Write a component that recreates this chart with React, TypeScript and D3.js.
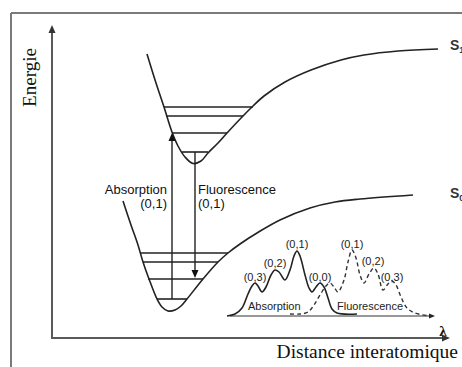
import React from "react";
import * as d3 from "d3";

const W = 462;
const H = 367;

// Potential energy curves: [interatomic distance, energy] in diagram units
const excitedCurve: [number, number][] = [
  [95, 284], [104, 255], [112, 231], [120, 206], [126, 192], [133, 181], [141, 174.5],
  [149, 177], [156, 185], [166, 195], [175, 205], [191, 222], [201, 232], [212, 242],
  [233, 256], [259, 268], [289, 278], [312, 283], [346, 287], [386, 289],
];
const groundCurve: [number, number][] = [
  [71, 137], [79, 113], [86, 93], [91, 76], [97, 59], [105, 39], [110, 31], [116, 27],
  [123, 28], [129, 32], [135, 39], [151, 59], [166, 76], [176, 85], [188, 94], [205, 105],
  [228, 118], [258, 130], [283, 136], [308, 139], [361, 143],
];

// Vibrational levels: energy, left distance, right distance
const excitedLevels = [
  { e: 231, r0: 112, r1: 201 },
  { e: 222, r0: 114, r1: 191 },
  { e: 205, r0: 120, r1: 175 },
  { e: 186, r0: 130, r1: 156 },
];
const groundLevels = [
  { e: 85, r0: 88, r1: 176 },
  { e: 76, r0: 91, r1: 166 },
  { e: 59, r0: 96, r1: 151 },
  { e: 39, r0: 105, r1: 135 },
];

// Transitions
const transitions = [
  { name: "Absorption", sub: "(0,1)", r: 120, from: 39, to: 205, side: "left" },
  { name: "Fluorescence", sub: "(0,1)", r: 143, from: 186, to: 60, side: "right" },
];
const transitionLabelE = [144, 130];

const stateLabels = [
  { main: "S", sub: "1", r: 398, e: 288 },
  { main: "S", sub: "0", r: 398, e: 140 },
];

// Spectra: [wavelength, intensity]
const absorptionSpectrum: [number, number][] = [
  [-3, 0], [5, 2], [12, 8], [18, 22], [22, 30], [25, 33], [28, 30], [32, 24], [36, 29],
  [41, 41], [45, 46], [49, 44], [55, 36], [60, 46], [64, 60], [67, 65], [70, 60], [75, 41],
  [79, 28], [82, 24], [86, 29], [90, 33], [94, 29], [98, 18], [102, 7], [107, 3], [127, 2],
];
const fluorescenceSpectrum: [number, number][] = [
  [60, 2], [70, 2], [78, 4], [84, 11], [90, 21], [96, 30], [100, 33], [104, 29], [108, 24],
  [114, 36], [118, 54], [122, 66], [126, 58], [130, 41], [134, 33], [139, 42], [144, 48],
  [148, 42], [153, 26], [158, 32], [162, 35], [166, 31], [171, 19], [177, 8], [185, 3], [200, 0],
];
const absorptionPeakLabels = [
  { label: "(0,3)", l: 25, i: 35 },
  { label: "(0,2)", l: 45, i: 49 },
  { label: "(0,1)", l: 67, i: 68 },
  { label: "(0,0)", l: 90, i: 35 },
];
const fluorescencePeakLabels = [
  { label: "(0,1)", l: 122, i: 68 },
  { label: "(0,2)", l: 143, i: 51 },
  { label: "(0,3)", l: 162, i: 35 },
];
const spectrumNames = [
  { label: "Absorption", l: 18, i: 6 },
  { label: "Fluorescence", l: 107, i: 6 },
];

const xS = d3.scaleLinear().domain([0, 398]).range([52, 450]);
const yS = d3.scaleLinear().domain([0, 313]).range([338, 25]);
const lS = d3.scaleLinear().domain([0, 205]).range([230, 435]);
const iS = d3.scaleLinear().domain([0, 66]).range([316, 250]);

const INK = "#222";
const SANS = "'Liberation Sans', Arial, sans-serif";
const SERIF = "'Liberation Serif', 'Times New Roman', serif";

function tri(x: number, y: number, dir: "up" | "down" | "right", len: number, hw: number) {
  if (dir === "up") return `M${x},${y} L${x - hw},${y + len} L${x + hw},${y + len} Z`;
  if (dir === "down") return `M${x},${y} L${x - hw},${y - len} L${x + hw},${y - len} Z`;
  return `M${x},${y} L${x - len},${y - hw} L${x - len},${y + hw} Z`;
}

export default function App() {
  const potLine = d3
    .line<[number, number]>()
    .x((d) => xS(d[0]))
    .y((d) => yS(d[1]))
    .curve(d3.curveCatmullRom.alpha(0.5));
  const specLine = d3
    .line<[number, number]>()
    .x((d) => lS(d[0]))
    .y((d) => iS(d[1]))
    .curve(d3.curveCatmullRom.alpha(0.5));

  const [x0, x1] = xS.range();
  const [y0, y1] = yS.range();
  const [l0, l1] = lS.range();
  const base = iS(0);

  return (
    <svg
      width={W}
      height={H}
      viewBox={`0 0 ${W} ${H}`}
      style={{ position: "absolute", left: 0, top: 0, display: "block", background: "#fff" }}
    >
      <rect x={0} y={0} width={W} height={H} fill="#fff" />
      {/* outer frame */}
      <line x1={11} y1={13} x2={W} y2={13} stroke="#7a7a7a" strokeWidth={2} />
      <line x1={11} y1={13} x2={11} y2={H} stroke="#7a7a7a" strokeWidth={2} />

      {/* axes */}
      <line x1={x0} y1={y0} x2={x0} y2={y1 + 6} stroke="#5a5a5a" strokeWidth={2} />
      <path d={tri(x0, y1, "up", 8, 3.5)} fill="#333" />
      <line x1={x0 - 1} y1={y0} x2={x1 - 6} y2={y0} stroke="#5a5a5a" strokeWidth={2} />
      <path d={tri(x1, y0, "right", 8, 3.5)} fill="#333" />

      <text
        transform={`translate(36,77.5) rotate(-90)`}
        textAnchor="middle"
        fontFamily={SERIF}
        fontSize={19}
        fill="#111"
      >
        Energie
      </text>
      <text x={458} y={358} textAnchor="end" fontFamily={SERIF} fontSize={19.5} fill="#111">
        Distance interatomique
      </text>

      {/* potential curves */}
      <path d={potLine(excitedCurve) || ""} fill="none" stroke={INK} strokeWidth={1.6} />
      <path d={potLine(groundCurve) || ""} fill="none" stroke={INK} strokeWidth={1.6} />

      {[...excitedLevels, ...groundLevels].map((lv, i) => (
        <line
          key={"lv" + i}
          x1={xS(lv.r0)}
          x2={xS(lv.r1)}
          y1={yS(lv.e)}
          y2={yS(lv.e)}
          stroke={INK}
          strokeWidth={1.6}
        />
      ))}

      {transitions.map((t, i) => {
        const x = xS(t.r);
        const up = t.to > t.from;
        const tipY = yS(t.to);
        const lx = t.side === "left" ? x - 5 : x + 3;
        const anchor = t.side === "left" ? "end" : "start";
        return (
          <g key={"tr" + i}>
            <line
              x1={x}
              x2={x}
              y1={yS(t.from)}
              y2={up ? tipY + 6 : tipY - 6}
              stroke={INK}
              strokeWidth={1.4}
            />
            <path d={tri(x, tipY, up ? "up" : "down", 8, 3.5)} fill="#111" />
            <text x={lx} y={yS(transitionLabelE[0])} textAnchor={anchor} fontFamily={SANS} fontSize={13} fill="#111">
              {t.name}
            </text>
            <text x={lx} y={yS(transitionLabelE[1])} textAnchor={anchor} fontFamily={SANS} fontSize={13} fill="#111">
              {t.sub}
            </text>
          </g>
        );
      })}

      {stateLabels.map((s, i) => (
        <text key={"st" + i} x={xS(s.r)} y={yS(s.e)} fontFamily={SANS} fontSize={14} fontWeight="bold" fill="#333">
          {s.main}
          <tspan fontSize={9} dy={3}>
            {s.sub}
          </tspan>
        </text>
      ))}

      {/* spectra */}
      <line x1={l0} y1={base} x2={l1 - 5} y2={base} stroke="#333" strokeWidth={1.2} />
      <path d={tri(l1, base, "right", 6, 2.5)} fill="#222" />
      <text x={443} y={336} textAnchor="middle" fontFamily={SERIF} fontSize={15} fontWeight="bold" fill="#111">
        λ
      </text>

      <path d={specLine(absorptionSpectrum) || ""} fill="none" stroke={INK} strokeWidth={1.6} />
      <path
        d={specLine(fluorescenceSpectrum) || ""}
        fill="none"
        stroke="#333"
        strokeWidth={1.4}
        strokeDasharray="4 3"
      />

      {[...absorptionPeakLabels, ...fluorescencePeakLabels].map((p, i) => (
        <text
          key={"pk" + i}
          x={lS(p.l)}
          y={iS(p.i)}
          textAnchor="middle"
          fontFamily={SANS}
          fontSize={11}
          fill="#222"
        >
          {p.label}
        </text>
      ))}
      {spectrumNames.map((s, i) => (
        <text key={"sn" + i} x={lS(s.l)} y={iS(s.i)} fontFamily={SANS} fontSize={11} fill="#222">
          {s.label}
        </text>
      ))}
    </svg>
  );
}
